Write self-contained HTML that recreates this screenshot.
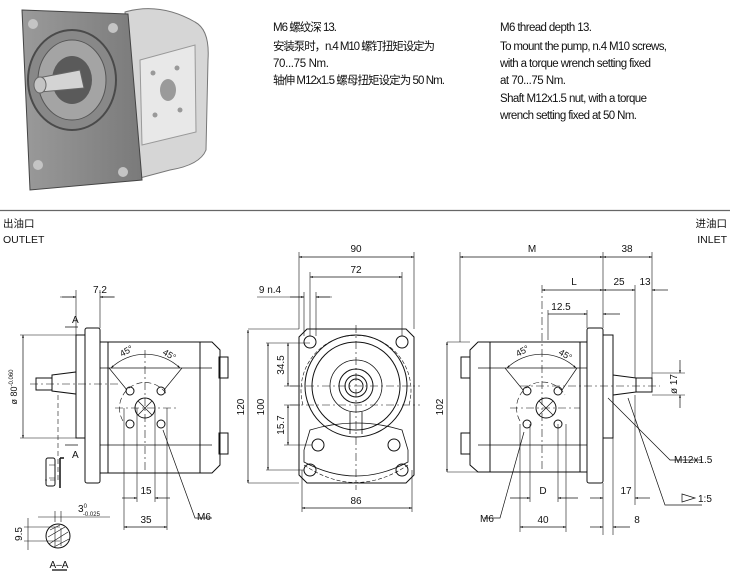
<!DOCTYPE html>
<html><head><meta charset="utf-8"><style>
html,body{margin:0;padding:0;background:#fff;}
svg{display:block;}
text{font-family:"Liberation Sans","Noto Sans CJK SC",sans-serif;fill:#111;}
</style></head><body>
<svg width="730" height="586" viewBox="0 0 730 586" xmlns="http://www.w3.org/2000/svg">
<defs>
<marker id="a" viewBox="0 0 10 10" refX="10" refY="5" markerWidth="6" markerHeight="4" orient="auto-start-reverse"><path d="M0,1.5 L10,5 L0,8.5 z" fill="#111"/></marker>
<linearGradient id="g1" x1="0" y1="0" x2="1" y2="0"><stop offset="0" stop-color="#9a9a9a"/><stop offset="1" stop-color="#7a7a7a"/></linearGradient>
</defs>

<!-- 3D pump -->
<g>
<path d="M125,12 Q160,2 195,22 Q210,30 208,60 L206,150 Q200,165 170,170 L140,178 Z" fill="#d6d6d6" stroke="#777"/>
<path d="M140,60 L195,45 L196,132 L142,145 Z" fill="#e8e8e8" stroke="#999"/>
<ellipse cx="168" cy="90" rx="8" ry="11" fill="#9a9a9a"/>
<circle cx="153" cy="73" r="2.5" fill="#999"/><circle cx="177" cy="68" r="2.5" fill="#999"/>
<circle cx="155" cy="115" r="2.5" fill="#999"/><circle cx="180" cy="110" r="2.5" fill="#999"/>
<path d="M22,10 L128,14 L142,180 L30,190 Z" fill="url(#g1)" stroke="#444"/>
<circle cx="33" cy="24" r="5" fill="#c4c4c4"/><circle cx="113" cy="28" r="5" fill="#c4c4c4"/>
<circle cx="38" cy="165" r="5" fill="#c4c4c4"/><circle cx="123" cy="172" r="5" fill="#c4c4c4"/>
<ellipse cx="72" cy="80" rx="44" ry="50" fill="#888" stroke="#4a4a4a" stroke-width="2"/>
<ellipse cx="72" cy="80" rx="34" ry="40" fill="#a4a4a4" stroke="#555"/>
<ellipse cx="72" cy="80" rx="20" ry="24" fill="#5a5a5a"/>
<path d="M38,78 L80,70 L84,88 L40,92 Z" fill="#d4d4d4" stroke="#666"/>
<ellipse cx="40" cy="85" rx="6" ry="8" fill="#c4c4c4" stroke="#666"/>
</g>

<!-- notes -->
<g font-size="11.5">
<text x="273" y="31" textLength="64">M6 螺纹深 13.</text>
<text x="273" y="50" textLength="162">安装泵时，n.4 M10 螺钉扭矩设定为</text>
<text x="273" y="67" textLength="56">70...75 Nm.</text>
<text x="273" y="84" textLength="172">轴伸 M12x1.5 螺母扭矩设定为 50 Nm.</text>
<text x="500" y="31" textLength="92">M6 thread depth 13.</text>
<text x="500" y="50" textLength="167">To mount the pump, n.4 M10 screws,</text>
<text x="500" y="67" textLength="151">with a torque wrench setting fixed</text>
<text x="500" y="84" textLength="66">at 70...75 Nm.</text>
<text x="500" y="102" textLength="147">Shaft M12x1.5 nut, with a torque</text>
<text x="500" y="119" textLength="137">wrench setting fixed at 50 Nm.</text>
</g>

<line x1="0" y1="210.5" x2="730" y2="210.5" stroke="#666" stroke-width="1.2"/>
<g font-size="10.5">
<text x="3" y="227">出油口</text>
<text x="3" y="243">OUTLET</text>
<text x="727" y="227" text-anchor="end">进油口</text>
<text x="727" y="243" text-anchor="end">INLET</text>
</g>

<g fill="none" stroke="#111" stroke-width="1">
<!-- LEFT VIEW -->
<rect x="85" y="328" width="15" height="155" rx="2"/>
<rect x="76" y="335" width="9" height="103"/>
<path d="M100,342 H212 L220,350 V465 L212,473 H100"/>
<line x1="108" y1="342" x2="108" y2="473"/><line x1="200" y1="342" x2="200" y2="473"/>
<line x1="100" y1="368" x2="212" y2="368" stroke-width=".7"/><line x1="100" y1="445" x2="212" y2="445" stroke-width=".7"/>
<rect x="219" y="357" width="9" height="21"/><rect x="219" y="433" width="9" height="21"/>
<path d="M52,375 L76,372 V394 L52,391 Z"/>
<rect x="36" y="378" width="16" height="12"/>
<line x1="30" y1="384" x2="118" y2="384" stroke-dasharray="8,3,2,3" stroke-width=".6"/>
<circle cx="145" cy="408" r="10"/><path d="M138,401 L152,415 M152,401 L138,415" stroke-width=".7"/>
<circle cx="130" cy="391" r="4"/><circle cx="161" cy="391" r="4"/><circle cx="130" cy="424" r="4"/><circle cx="161" cy="424" r="4"/>
<line x1="145" y1="350" x2="145" y2="470" stroke-dasharray="8,3,2,3" stroke-width=".6"/>
<line x1="115" y1="408" x2="178" y2="408" stroke-dasharray="8,3,2,3" stroke-width=".6"/>
<path d="M123,421 A22,22 0 0 1 167,395" stroke-dasharray="6,3" stroke-width=".6"/>
<path d="M109,368 L127,390 M182,368 L164,390" stroke-width=".7"/>
<path d="M111,368 A50,50 0 0 1 180,368" marker-start="url(#a)" marker-end="url(#a)" stroke-width=".7"/>
<line x1="248" y1="330" x2="248" y2="483" marker-start="url(#a)" marker-end="url(#a)" stroke-width=".7"/>
<line x1="23" y1="335" x2="23" y2="438" marker-start="url(#a)" marker-end="url(#a)" stroke-width=".7"/>
<path d="M20,335 H76 M20,438 H76" stroke-width=".6"/>
<path d="M60,297 H76 M100,297 H115 M76,290 V335 M100,290 V328" stroke-width=".6"/>
<path d="M62,297 L76,297" marker-end="url(#a)" stroke-width=".7"/><path d="M114,297 L100,297" marker-end="url(#a)" stroke-width=".7"/>
<path d="M65,327 H78 M65,445 H78" stroke-width=".7"/>
<path d="M58,395 V480 H45" stroke-dasharray="5,3" stroke-width=".6"/>
<rect x="46" y="458" width="9" height="28" rx="2"/><path d="M49,465 H55 M49,478 H55" stroke-width=".6"/>
<path d="M60,458 H64 M60,458 V488" stroke-width="1.5"/>
<path d="M124,408 V530 M167,408 V530 M137,408 V502 M155,408 V502" stroke-width=".6"/>
<line x1="122" y1="498" x2="137" y2="498" marker-end="url(#a)" stroke-width=".7"/><line x1="170" y1="498" x2="155" y2="498" marker-end="url(#a)" stroke-width=".7"/>
<line x1="124" y1="527" x2="167" y2="527" marker-start="url(#a)" marker-end="url(#a)" stroke-width=".7"/>
<path d="M163,430 L195,518 H212" stroke-width=".7"/>
<circle cx="58" cy="536" r="12"/>
<path d="M50,530 L60,525 M48,537 L65,527 M49,544 L68,532 M54,547 L69,539 M55,528 V546 M61,528 V546" stroke-width=".6"/>
<path d="M38,517 H110 M55,511 V522 M61,511 V522" stroke-width=".6"/>
<path d="M24,527 H60 M24,541 H60 M28,518 V550" stroke-width=".6"/>
<line x1="52" y1="570" x2="67" y2="570" stroke-width="1.3"/>

<!-- MIDDLE VIEW -->
<path d="M307,329 H406 L414,337 V475 L406,483 H307 L299,475 V337 Z"/>
<circle cx="310" cy="342" r="6"/><circle cx="402" cy="342" r="6"/>
<circle cx="318" cy="445" r="6"/><circle cx="394" cy="445" r="6"/>
<circle cx="310" cy="470" r="6"/><circle cx="402" cy="470" r="6"/>
<circle cx="356" cy="386" r="51"/><circle cx="356" cy="386" r="44"/>
<circle cx="356" cy="386" r="26" stroke-width=".8"/>
<circle cx="356" cy="386" r="17"/><circle cx="356" cy="386" r="11"/><circle cx="356" cy="386" r="7"/>
<path d="M350,412 V434 M362,412 V434" stroke-width=".8"/>
<path d="M310,430 Q356,416 402,430 L408,450 V462 Q356,490 304,462 V450 Z" stroke-width=".8"/>
<path d="M303,405 A55,55 0 1 1 409,405" stroke-dasharray="4,2" stroke-width=".6"/>
<path d="M304,465 Q356,500 408,465" stroke-dasharray="4,2" stroke-width=".6"/>
<line x1="290" y1="386" x2="420" y2="386" stroke-dasharray="8,3,2,3" stroke-width=".6"/>
<line x1="290" y1="405" x2="420" y2="405" stroke-dasharray="8,3,2,3" stroke-width=".6"/>
<line x1="356" y1="325" x2="356" y2="490" stroke-dasharray="8,3,2,3" stroke-width=".6"/>
<path d="M299,252 V329 M414,252 V329 M310,272 V336 M402,272 V336 M304,292 V336 M316,292 V336" stroke-width=".6"/>
<line x1="299" y1="257" x2="414" y2="257" marker-start="url(#a)" marker-end="url(#a)" stroke-width=".7"/>
<line x1="310" y1="277" x2="402" y2="277" marker-start="url(#a)" marker-end="url(#a)" stroke-width=".7"/>
<path d="M257,297 H304 M316,297 H332" stroke-width=".6"/>
<path d="M290,297 L304,297" marker-end="url(#a)" stroke-width=".7"/><path d="M330,297 L316,297" marker-end="url(#a)" stroke-width=".7"/>
<path d="M248,329 H299 M266,343 H310 M284,386 H300 M284,405 H300 M284,445 H312 M266,470 H304 M248,483 H299" stroke-width=".6"/>
<line x1="268" y1="343" x2="268" y2="470" marker-start="url(#a)" marker-end="url(#a)" stroke-width=".7"/>
<line x1="288" y1="343" x2="288" y2="386" marker-start="url(#a)" marker-end="url(#a)" stroke-width=".7"/>
<line x1="288" y1="405" x2="288" y2="445" marker-start="url(#a)" marker-end="url(#a)" stroke-width=".7"/>
<path d="M302,470 V512 M412,470 V512" stroke-width=".6"/>
<line x1="302" y1="508" x2="412" y2="508" marker-start="url(#a)" marker-end="url(#a)" stroke-width=".7"/>

<!-- RIGHT VIEW -->
<path d="M587,342 H478 L470,350 V465 L478,472 H587"/>
<line x1="490" y1="342" x2="490" y2="472"/><line x1="580" y1="342" x2="580" y2="472"/>
<line x1="478" y1="368" x2="587" y2="368" stroke-width=".7"/><line x1="478" y1="445" x2="587" y2="445" stroke-width=".7"/>
<rect x="461" y="357" width="9" height="21"/><rect x="461" y="433" width="9" height="21"/>
<rect x="587" y="328" width="16" height="155" rx="2"/>
<rect x="603" y="335" width="10" height="103"/>
<path d="M613,375 L636,378 V392 L613,395 Z"/>
<rect x="636" y="378" width="16" height="14"/>
<line x1="520" y1="386" x2="660" y2="386" stroke-dasharray="8,3,2,3" stroke-width=".6"/>
<circle cx="546" cy="408" r="10"/><path d="M539,401 L553,415 M553,401 L539,415" stroke-width=".7"/>
<circle cx="527" cy="391" r="4"/><circle cx="558" cy="391" r="4"/><circle cx="527" cy="424" r="4"/><circle cx="558" cy="424" r="4"/>
<line x1="542" y1="285" x2="542" y2="470" stroke-dasharray="8,3,2,3" stroke-width=".6"/>
<line x1="510" y1="408" x2="580" y2="408" stroke-dasharray="8,3,2,3" stroke-width=".6"/>
<path d="M520,421 A22,22 0 0 1 565,395" stroke-dasharray="6,3" stroke-width=".6"/>
<path d="M505,368 L523,390 M577,368 L562,390" stroke-width=".7"/>
<path d="M507,368 A50,50 0 0 1 576,368" marker-start="url(#a)" marker-end="url(#a)" stroke-width=".7"/>
<path d="M460,252 V342 M603,252 V328 M652,252 V378 M635,285 V378 M548,310 V340 M587,310 V328" stroke-width=".6"/>
<line x1="460" y1="257" x2="603" y2="257" marker-start="url(#a)" marker-end="url(#a)" stroke-width=".7"/>
<line x1="603" y1="257" x2="652" y2="257" marker-start="url(#a)" marker-end="url(#a)" stroke-width=".7"/>
<line x1="542" y1="290" x2="603" y2="290" marker-start="url(#a)" marker-end="url(#a)" stroke-width=".7"/>
<line x1="603" y1="290" x2="635" y2="290" marker-start="url(#a)" marker-end="url(#a)" stroke-width=".7"/>
<path d="M668,290 L652,290" marker-end="url(#a)" stroke-width=".7"/>
<path d="M548,314 H573 L587,314" marker-end="url(#a)" stroke-width=".7"/><path d="M620,314 L603,314" marker-end="url(#a)" stroke-width=".7"/>
<path d="M447,342 H470 M447,472 H478" stroke-width=".6"/>
<line x1="447" y1="342" x2="447" y2="472" marker-start="url(#a)" marker-end="url(#a)" stroke-width=".7"/>
<path d="M652,373 H685 M652,395 H685" stroke-width=".6"/>
<path d="M680,360 L680,373" marker-end="url(#a)" stroke-width=".7"/><path d="M680,408 L680,395" marker-end="url(#a)" stroke-width=".7"/>
<path d="M608,398 L670,460 H702" stroke-width=".7"/>
<path d="M628,398 L665,505 H702" stroke-width=".7"/>
<path d="M682,494 L695,498 L682,502 Z" stroke-width=".7"/>
<path d="M603,483 V535 M613,438 V535 M635,395 V505 M520,424 V532 M566,424 V532 M530,424 V502 M558,424 V502" stroke-width=".6"/>
<line x1="510" y1="498" x2="530" y2="498" marker-end="url(#a)" stroke-width=".7"/><line x1="578" y1="498" x2="558" y2="498" marker-end="url(#a)" stroke-width=".7"/>
<line x1="520" y1="527" x2="566" y2="527" marker-start="url(#a)" marker-end="url(#a)" stroke-width=".7"/>
<line x1="590" y1="498" x2="603" y2="498" marker-end="url(#a)" stroke-width=".7"/><line x1="650" y1="498" x2="635" y2="498" marker-end="url(#a)" stroke-width=".7"/>
<line x1="590" y1="527" x2="603" y2="527" marker-end="url(#a)" stroke-width=".7"/><line x1="630" y1="527" x2="613" y2="527" marker-end="url(#a)" stroke-width=".7"/>
<path d="M524,432 L500,518 H484" stroke-width=".7"/>
</g>

<g font-size="10">
<text x="100" y="293" text-anchor="middle">7.2</text>
<text x="72" y="323">A</text><text x="72" y="458">A</text>
<text x="17" y="387" transform="rotate(-90 17 387)" text-anchor="middle" font-size="9">ø 80<tspan font-size="6" dy="-4">-0.060</tspan></text>
<text x="244" y="407" transform="rotate(-90 244 407)" text-anchor="middle">120</text>
<text x="122" y="357" font-size="9" transform="rotate(-30 122 357)">45°</text>
<text x="162" y="354" font-size="9" transform="rotate(30 162 354)">45°</text>
<text x="146" y="494" text-anchor="middle">15</text>
<text x="146" y="523" text-anchor="middle">35</text>
<text x="197" y="520">M6</text>
<text x="78" y="512">3<tspan font-size="6" dy="-4">0</tspan><tspan font-size="6" dx="-4" dy="8">-0.025</tspan></text>
<text x="22" y="534" transform="rotate(-90 22 534)" text-anchor="middle">9.5</text>
<text x="59" y="568" text-anchor="middle">A–A</text>

<text x="356" y="252" text-anchor="middle">90</text>
<text x="356" y="273" text-anchor="middle">72</text>
<text x="270" y="293" text-anchor="middle">9 n.4</text>
<text x="264" y="407" transform="rotate(-90 264 407)" text-anchor="middle">100</text>
<text x="284" y="365" transform="rotate(-90 284 365)" text-anchor="middle">34.5</text>
<text x="284" y="425" transform="rotate(-90 284 425)" text-anchor="middle">15.7</text>
<text x="356" y="504" text-anchor="middle">86</text>

<text x="532" y="252" text-anchor="middle">M</text>
<text x="627" y="252" text-anchor="middle">38</text>
<text x="574" y="285" text-anchor="middle">L</text>
<text x="619" y="285" text-anchor="middle">25</text>
<text x="645" y="285" text-anchor="middle">13</text>
<text x="561" y="310" text-anchor="middle">12.5</text>
<text x="443" y="407" transform="rotate(-90 443 407)" text-anchor="middle">102</text>
<text x="518" y="357" font-size="9" transform="rotate(-30 518 357)">45°</text>
<text x="558" y="354" font-size="9" transform="rotate(30 558 354)">45°</text>
<text x="677" y="384" transform="rotate(-90 677 384)" text-anchor="middle">ø 17</text>
<text x="674" y="463">M12x1.5</text>
<text x="698" y="502">1:5</text>
<text x="543" y="494" text-anchor="middle">D</text>
<text x="543" y="523" text-anchor="middle">40</text>
<text x="626" y="494" text-anchor="middle">17</text>
<text x="637" y="523" text-anchor="middle">8</text>
<text x="480" y="522">M6</text>
</g>
</svg>
</body></html>
